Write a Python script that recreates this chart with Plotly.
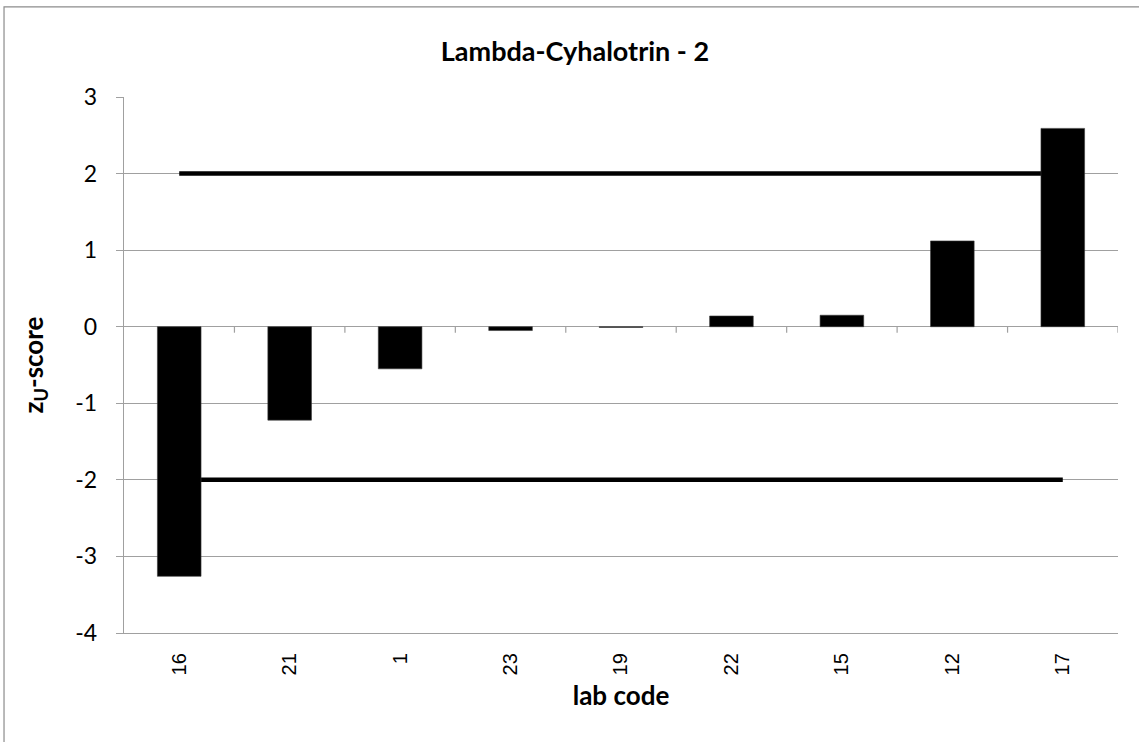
import plotly.graph_objects as go

# Lab codes in plotted order and their z_U-scores
lab_codes = ["16", "21", "1", "23", "19", "22", "15", "12", "17"]
z_scores = [-3.26, -1.22, -0.55, -0.05, -0.01, 0.14, 0.15, 1.12, 2.59]

# Acceptance limits drawn as horizontal bands from the first to the last lab
limits = [2, -2]

y_ticks = [3, 2, 1, 0, -1, -2, -3, -4]

grid_color = "#a0a0a0"

fig = go.Figure()

fig.add_trace(go.Bar(
    x=lab_codes,
    y=z_scores,
    marker=dict(color="#000000", line=dict(color="#3a3a3a", width=0.6)),
    showlegend=False,
    hoverinfo="x+y",
))

shapes = []
# limit lines: between gridlines and bars
for lim in limits:
    shapes.append(dict(
        type="line", xref="x", yref="y",
        x0=0, x1=len(lab_codes) - 1, y0=lim, y1=lim,
        line=dict(color="#000000", width=4.5),
        layer="between",
    ))

# category tick marks hanging from the zero line
for k in range(len(lab_codes)):
    shapes.append(dict(
        type="line", xref="x", yref="y",
        ysizemode="pixel", yanchor=0,
        x0=k + 0.5, x1=k + 0.5, y0=0, y1=-6,
        line=dict(color=grid_color, width=1.2),
        layer="between",
    ))

# outer chart border (right and bottom edges run off the page)
shapes.append(dict(
    type="rect", xref="paper", yref="paper",
    x0=-0.1207, x1=1.05, y0=-0.25, y1=1.168,
    line=dict(color="#8c8c8c", width=1.2),
    fillcolor="rgba(0,0,0,0)",
    layer="below",
))

fig.update_layout(
    width=1139,
    height=742,
    margin=dict(l=124, r=21, t=97, b=109),
    paper_bgcolor="#ffffff",
    plot_bgcolor="#ffffff",
    bargap=0.605,
    shapes=shapes,
    title=dict(
        text="<b>Lambda-Cyhalotrin - 2</b>",
        x=575 / 1139, xref="container", xanchor="center",
        y=1 - 52 / 742, yref="container", yanchor="middle",
        font=dict(family="Lato, Calibri, sans-serif", size=27, color="#000000"),
    ),
    font=dict(family="Lato, Calibri, sans-serif", color="#000000"),
)

fig.update_xaxes(
    type="category",
    categoryorder="array",
    categoryarray=lab_codes,
    range=[-0.5, len(lab_codes) - 0.5],
    showgrid=False,
    zeroline=False,
    showline=True,
    linecolor=grid_color,
    linewidth=1.4,
    ticks="",
    tickangle=-90,
    ticklabelstandoff=11,
    tickfont=dict(family="Liberation Sans, Arial, sans-serif", size=20, color="#000000"),
    title=dict(text="<b>lab code</b>", font=dict(family="Lato, Calibri, sans-serif", size=26), standoff=12),
)

fig.update_yaxes(
    range=[-4, 3],
    tickvals=y_ticks,
    ticktext=[str(v) for v in y_ticks],
    showgrid=True,
    gridcolor=grid_color,
    gridwidth=1.2,
    zeroline=True,
    zerolinecolor=grid_color,
    zerolinewidth=1.4,
    showline=True,
    linecolor=grid_color,
    linewidth=1.4,
    ticks="outside",
    ticklen=7,
    tickcolor=grid_color,
    ticklabelstandoff=14,
    tickfont=dict(family="Lato, Calibri, sans-serif", size=23, color="#000000"),
    title=dict(text="<b>z<sub>U</sub>-score</b>", font=dict(family="Lato, Calibri, sans-serif", size=26), standoff=24),
)

fig.write_html("out.html")
